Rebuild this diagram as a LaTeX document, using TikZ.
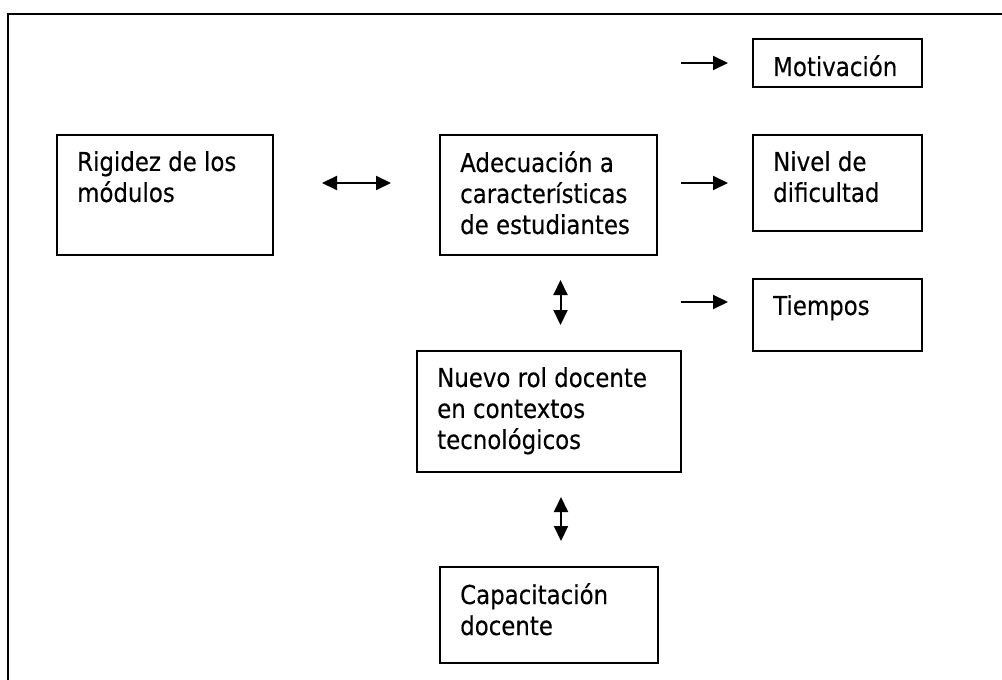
\documentclass[tikz,border=0pt]{standalone}
\usepackage{fontspec}
\setmainfont{DejaVu Sans}[FakeStretch=0.88,FakeBold=0.3]
\usetikzlibrary{arrows.meta}

\begin{document}
\begin{tikzpicture}[x=1pt,y=-1pt,
  caja/.style={draw, line width=2pt, inner sep=0pt, anchor=north west},
  texto/.style={anchor=north west, align=left, inner xsep=21pt, inner ysep=17pt,
    font=\fontsize{26}{31}\selectfont},
  flecha/.style={line width=2pt, -{Triangle[length=15pt,width=14pt]}},
  dflecha/.style={line width=2pt, {Triangle[length=15pt,width=14pt]}-{Triangle[length=15pt,width=14pt]}}]
\useasboundingbox (0,0) rectangle (1002,680);
\draw[line width=2.6pt] (8,680) -- (8,14) -- (1002,14);

\node[caja, minimum width=216pt, minimum height=120pt,
  label={[texto]north west:Rigidez de los\\módulos}] (rig) at (56,134) {};
\node[caja, minimum width=217pt, minimum height=120pt,
  label={[texto]north west:Adecuación a\\características\\de estudiantes}] (adec) at (439,134) {};
\node[caja, minimum width=169pt, minimum height=48pt,
  label={[texto]north west:Motivación}] (moti) at (752,38) {};
\node[caja, minimum width=169pt, minimum height=96pt,
  label={[texto]north west:Nivel de\\dificultad}] (niv) at (752,134) {};
\node[caja, minimum width=169pt, minimum height=72pt,
  label={[texto]north west:Tiempos}] (tie) at (752,278) {};
\node[caja, minimum width=264pt, minimum height=121pt,
  label={[texto]north west:Nuevo rol docente\\en contextos\\tecnológicos}] (nuevo) at (416,350) {};
\node[caja, minimum width=218pt, minimum height=96pt,
  label={[texto]north west:Capacitación\\docente}] (capa) at (439,566) {};

\draw[dflecha, shorten <=48pt, shorten >=48pt] ([yshift=12pt]rig.east) -- ([yshift=12pt]adec.west);
\draw[flecha, shorten <=23pt, shorten >=24pt] (moti.west -| adec.east) -- (moti.west);
\draw[flecha, shorten <=23pt, shorten >=24pt] (niv.west -| adec.east) -- (niv.west);
\draw[flecha, shorten <=23pt, shorten >=24pt] ([yshift=-24pt]tie.north west -| adec.east) -- ([yshift=-24pt]tie.north west);
\draw[dflecha, shorten <=24pt, shorten >=25pt] ([xshift=12pt]adec.south) -- ([xshift=12pt]adec.south |- nuevo.north);
\draw[dflecha, shorten <=24pt, shorten >=25pt] ([xshift=12pt]nuevo.south) -- ([xshift=12pt]nuevo.south |- capa.north);
\end{tikzpicture}
\end{document}
